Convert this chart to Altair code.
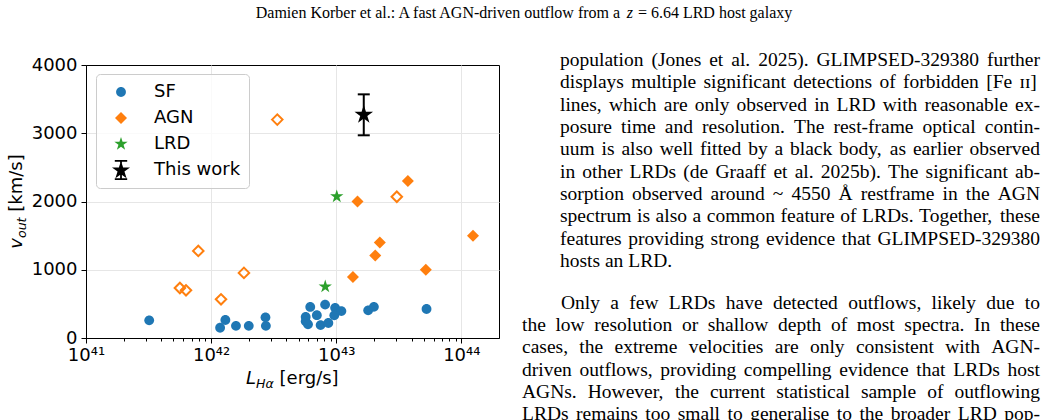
import math
import altair as alt
import pandas as pd

# ---------------------------------------------------------------------------
# Outflow velocity vs. H-alpha luminosity
# ---------------------------------------------------------------------------
SF_L = [3.2e41, 1.18e42, 1.30e42, 1.58e42, 2.0e42, 2.72e42, 2.74e42,
        5.7e42, 5.7e42, 5.95e42, 6.2e42, 7.0e42, 7.5e42, 8.15e42, 8.65e42,
        9.8e42, 9.65e42, 1.10e43, 1.80e43, 2.0e43, 5.27e43]
SF_V = [259, 150, 264, 178, 178, 303, 178,
        308, 245, 200, 455, 335, 190, 490, 220,
        442, 332, 394, 405, 457, 425]

AGN_L = [1.48e43, 3.74e43, 2.23e43, 2.05e43, 1.36e43, 5.2e43, 1.24e44]
AGN_V = [2000, 2300, 1400, 1210, 895, 1000, 1500]

AGN_OPEN_L = [3.38e42, 3.05e43, 7.9e41, 1.83e42, 5.63e41, 6.3e41, 1.2e42]
AGN_OPEN_V = [3200, 2070, 1276, 954, 733, 699, 567]

LRD_L = [1.01e43, 8.17e42]
LRD_V = [2073, 753]

THIS_L = [1.66e43]
THIS_V = [3270]
THIS_ERR = [300]

GROUPS = ["SF", "AGN", "LRD", "This work"]
COLORS = ["#1f77b4", "#ff7f0e", "#2ca02c", "#000000"]

X_MAJOR_EXP = [41, 42, 43, 44]
X_DOMAIN = [1e41, 2e44]
Y_TICKS = [0, 1000, 2000, 3000, 4000]
Y_DOMAIN = [0, 4000]

HEADER = [("Damien Korber et al.: A fast AGN-driven outflow from a", False),
          ("z", True),
          ("= 6.64 LRD host galaxy", False)]

PARA1 = [
    "population (Jones et al. 2025). GLIMPSED-329380 further",
    "displays multiple significant detections of forbidden [Fe \u026a\u026a]",
    "lines, which are only observed in LRD with reasonable ex-",
    "posure time and resolution. The rest-frame optical contin-",
    "uum is also well fitted by a black body, as earlier observed",
    "in other LRDs (de Graaff et al. 2025b). The significant ab-",
    "sorption observed around ~ 4550 \u00c5 restframe in the AGN",
    "spectrum is also a common feature of LRDs. Together, these",
    "features providing strong evidence that GLIMPSED-329380",
    "hosts an LRD.",
]
PARA2 = [
    "Only a few LRDs have detected outflows, likely due to",
    "the low resolution or shallow depth of most spectra. In these",
    "cases, the extreme velocities are only consistent with AGN-",
    "driven outflows, providing compelling evidence that LRDs host",
    "AGNs. However, the current statistical sample of outflowing",
    "LRDs remains too small to generalise to the broader LRD pop-",
]

# ---------------------------------------------------------------------------
# page geometry (pixels)
# ---------------------------------------------------------------------------
PAGE_W, PAGE_H = 1048, 420
PLOT_L, PLOT_T, PLOT_R, PLOT_B = 86, 65, 499, 338
W, H = PLOT_R - PLOT_L, PLOT_B - PLOT_T

# ---------------------------------------------------------------------------
# marker shapes as SVG paths in the unit box [-1, 1]
# ---------------------------------------------------------------------------
def star_pts(r, inner=0.381966, cy=0.0):
    pts = []
    for k in range(10):
        rr = r if k % 2 == 0 else r * inner
        th = math.radians(36 * k)
        pts.append((rr * math.sin(th), cy - rr * math.cos(th)))
    return pts


def poly(pts):
    return "M" + " L".join(f"{x:.4f},{y:.4f}" for x, y in pts) + " Z"


def rect(x0, y0, x1, y1):
    return poly([(x0, y0), (x1, y0), (x1, y1), (x0, y1)])


def circle(r):
    return f"M{-r},0 A{r},{r} 0 1,1 {r},0 A{r},{r} 0 1,1 {-r},0 Z"


STAR = poly(star_pts(1.0))
SHAPES = [
    circle(0.49),
    poly([(0, -0.6), (0.6, 0), (0, 0.6), (-0.6, 0)]),
    poly(star_pts(0.7)),
    poly(star_pts(0.95, cy=0.05)) + " " + rect(-0.09, -0.92, 0.09, 0.92) + " "
    + rect(-0.62, -1.0, 0.62, -0.82) + " " + rect(-0.62, 0.82, 0.62, 1.0),
]

# ---------------------------------------------------------------------------
# text metrics (Times for the page text, DejaVu Sans for the axis titles)
# ---------------------------------------------------------------------------
TIMES_W = dict(zip("abcdefghijklmnopqrstuvwxyz",
                   [444, 500, 444, 500, 444, 333, 500, 500, 278, 278, 500, 278, 778,
                    500, 500, 500, 500, 333, 389, 278, 500, 500, 722, 500, 500, 444]))
TIMES_W.update(dict(zip("ABCDEFGHIJKLMNOPQRSTUVWXYZ",
                        [722, 667, 667, 722, 611, 556, 722, 722, 333, 389, 722, 611, 889,
                         722, 722, 556, 722, 667, 556, 611, 722, 722, 944, 722, 722, 611])))
TIMES_W.update({c: 500 for c in "0123456789"})
TIMES_W.update({" ": 250, ".": 250, ",": 250, ":": 278, ";": 278, "(": 333, ")": 333,
                "-": 333, "[": 333, "]": 333, "=": 564, "~": 541, "\u00c5": 722,
                "\u026a": 360})

DJV_W = {"L": 557, "H": 752, "\u03b1": 659, "v": 592, "o": 612, "u": 634, "t": 392,
         " ": 318, "[": 390, "]": 390, "e": 615, "r": 411, "g": 635, "/": 337,
         "s": 521, "k": 579, "m": 974}


def tw(s, size, table=TIMES_W):
    return sum(table.get(c, 500) for c in s) / 1000.0 * size


serif_rows, serif_it_rows, sans_rows, sans_it_rows = [], [], [], []

# running head, centred on the page
HEAD_SIZE = 16
HEAD_BASE = 18
space = tw(" ", HEAD_SIZE)
total = sum(tw(t, HEAD_SIZE) for t, _ in HEADER) + space * (len(HEADER) - 1)
x = PAGE_W / 2 - total / 2
for t, it in HEADER:
    (serif_it_rows if it else serif_rows).append(
        dict(t=t, px=x - PLOT_L, py=HEAD_BASE - PLOT_T, fs=HEAD_SIZE, ang=0))
    x += tw(t, HEAD_SIZE) + space

# justified body text
BODY_SIZE = 19.5
LEAD = 22.35


def set_line(text, left, right, base, justify):
    words = text.split(" ")
    widths = [tw(w, BODY_SIZE) for w in words]
    if justify and len(words) > 1:
        gap = (right - left - sum(widths)) / (len(words) - 1)
    else:
        gap = tw(" ", BODY_SIZE)
    xx = left
    for w, wd in zip(words, widths):
        serif_rows.append(dict(t=w, px=xx - PLOT_L, py=base - PLOT_T, fs=BODY_SIZE, ang=0))
        xx += wd + gap


for i, line in enumerate(PARA1):
    set_line(line, 560, 1040, 66 + LEAD * i, i < len(PARA1) - 1)
for i, line in enumerate(PARA2):
    set_line(line, 561 if i == 0 else 522, 1040, 308.5 + LEAD * i, True)

# axis titles built from pieces (italic symbol, smaller italic subscript, units)
TSIZE, SSIZE = 18, 12.6
# x title: L_Ha [erg/s]
pieces = [("L", True, TSIZE, 0), ("H\u03b1", True, SSIZE, 4), ("[erg/s]", False, TSIZE, 0)]
widths = [tw(p[0], p[2], DJV_W) for p in pieces]
total = sum(widths) + tw(" ", TSIZE, DJV_W)
x = (PLOT_L + PLOT_R) / 2 - total / 2
for (t, it, fs, drop), wd in zip(pieces, widths):
    if t.startswith("["):
        x += tw(" ", TSIZE, DJV_W)
    (sans_it_rows if it else sans_rows).append(
        dict(t=t, px=x - PLOT_L, py=384 + drop - PLOT_T, fs=fs, ang=0))
    x += wd
# y title: v_out [km/s], reading upwards
pieces = [("v", True, TSIZE, 0), ("out", True, SSIZE, 4), ("[km/s]", False, TSIZE, 0)]
widths = [tw(p[0], p[2], DJV_W) for p in pieces]
total = sum(widths) + tw(" ", TSIZE, DJV_W)
y = (PLOT_T + PLOT_B) / 2 + total / 2
for (t, it, fs, drop), wd in zip(pieces, widths):
    if t.startswith("["):
        y -= tw(" ", TSIZE, DJV_W)
    (sans_it_rows if it else sans_rows).append(
        dict(t=t, px=22 + drop - PLOT_L, py=y - PLOT_T, fs=fs, ang=270))
    y -= wd

# ---------------------------------------------------------------------------
# scales and axes
# ---------------------------------------------------------------------------
xscale = alt.Scale(type="log", domain=X_DOMAIN, nice=False)
yscale = alt.Scale(domain=Y_DOMAIN, nice=False, zero=False)

LOG10 = "(log(datum.value)/LN10)"
MAJOR = f"(abs({LOG10} - round({LOG10})) < 0.001)"
SUP = str.maketrans("0123456789", "\u2070\u00b9\u00b2\u00b3\u2074\u2075\u2076\u2077\u2078\u2079")
sup_expr = "''"
for e in reversed(X_MAJOR_EXP):
    sup_expr = f"(round({LOG10}) == {e} ? '{str(e).translate(SUP)}' : {sup_expr})"
x_values = sorted([10.0 ** e for e in X_MAJOR_EXP]
                  + [m * 10.0 ** e for e in X_MAJOR_EXP[:-1] for m in range(2, 10)])

x_axis = alt.Axis(
    values=x_values,
    labelExpr=f"{MAJOR} ? '10' + {sup_expr} : ''",
    tickSize={"condition": {"test": MAJOR, "value": 5}, "value": 3},
    gridOpacity={"condition": {"test": f"{MAJOR} && datum.value > 2e41", "value": 1}, "value": 0},
    labelOverlap=False, labelFlush=False, labelPadding=3, title=None,
)
y_axis = alt.Axis(
    values=Y_TICKS, format="d", tickSize=5, labelPadding=4, title=None,
    labelOverlap=False,
    gridOpacity={"condition": {"test": "datum.value > 0 && datum.value < 4000", "value": 1},
                 "value": 0},
)

# ---------------------------------------------------------------------------
# layers
# ---------------------------------------------------------------------------
main_df = pd.concat([
    pd.DataFrame({"L": SF_L, "v": SF_V, "group": "SF"}),
    pd.DataFrame({"L": AGN_L, "v": AGN_V, "group": "AGN"}),
    pd.DataFrame({"L": LRD_L, "v": LRD_V, "group": "LRD"}),
], ignore_index=True)
open_df = pd.DataFrame({"L": AGN_OPEN_L, "v": AGN_OPEN_V})
this_df = pd.DataFrame({"L": THIS_L, "v": THIS_V,
                        "lo": [v - e for v, e in zip(THIS_V, THIS_ERR)],
                        "hi": [v + e for v, e in zip(THIS_V, THIS_ERR)]})
caps_df = pd.DataFrame({"L": THIS_L * 2,
                        "v": [THIS_V[0] - THIS_ERR[0], THIS_V[0] + THIS_ERR[0]]})

legend = alt.Legend(
    orient="none", legendX=10, legendY=9,
    labelFont="DejaVu Sans", labelFontSize=18, labelColor="black",
    symbolSize=400, symbolStrokeWidth=0, symbolOpacity=1,
    padding=8, rowPadding=7, symbolOffset=7, labelOffset=23,
    fillColor="rgba(255,255,255,0.8)", strokeColor="#cccccc", cornerRadius=4,
)

X = alt.X("L:Q", scale=xscale, axis=x_axis)
Y = alt.Y("v:Q", scale=yscale, axis=y_axis)
Xp = alt.X("L:Q", scale=xscale)
Yp = alt.Y("v:Q", scale=yscale)

points = alt.Chart(main_df).mark_point(filled=True, size=400, opacity=1, strokeWidth=0).encode(
    x=X, y=Y,
    color=alt.Color("group:N", title=None,
                    scale=alt.Scale(domain=GROUPS, range=COLORS), legend=legend),
    shape=alt.Shape("group:N", title=None,
                    scale=alt.Scale(domain=GROUPS, range=SHAPES), legend=legend),
)

open_pts = alt.Chart(open_df).mark_point(
    shape="diamond", filled=False, color="#ff7f0e", size=110, strokeWidth=2, opacity=1
).encode(x=Xp, y=Yp)

err_bar = alt.Chart(this_df).mark_rule(color="black", strokeWidth=2).encode(
    x=Xp, y=alt.Y("lo:Q", scale=yscale), y2="hi:Q")
err_caps = alt.Chart(caps_df).mark_tick(
    orient="horizontal", color="black", size=12, thickness=2, opacity=1
).encode(x=Xp, y=Yp)
this_pt = alt.Chart(this_df).mark_point(
    shape=STAR, filled=True, color="black", size=380, strokeWidth=0, opacity=1
).encode(x=Xp, y=Yp)


def text_layer(rows, font, style):
    return alt.Chart(pd.DataFrame(rows)).mark_text(
        font=font, fontStyle=style, align="left", baseline="alphabetic", color="black"
    ).encode(
        x=alt.X("px:Q", scale=None, axis=None),
        y=alt.Y("py:Q", scale=None, axis=None),
        text="t:N",
        size=alt.Size("fs:Q", scale=None, legend=None),
        angle=alt.Angle("ang:Q", scale=None),
    )


chart = alt.layer(
    points, open_pts, err_bar, err_caps, this_pt,
    text_layer(serif_rows, "Liberation Serif", "normal"),
    text_layer(serif_it_rows, "Liberation Serif", "italic"),
    text_layer(sans_rows, "DejaVu Sans", "normal"),
    text_layer(sans_it_rows, "DejaVu Sans", "italic"),
).properties(
    width=W, height=H,
    autosize=alt.AutoSizeParams(type="none"),
    padding={"left": PLOT_L, "top": PLOT_T, "right": PAGE_W - PLOT_R, "bottom": PAGE_H - PLOT_B},
    background="white",
).configure_view(
    stroke="black", strokeWidth=1,
).configure_axis(
    labelFont="DejaVu Sans", labelFontSize=18, labelColor="black",
    tickColor="black", tickWidth=1, domainColor="black", domainWidth=1,
    gridColor="#e6e6e6", gridWidth=1,
)

chart.save("out.html", embed_options={"renderer": "svg", "actions": False})
